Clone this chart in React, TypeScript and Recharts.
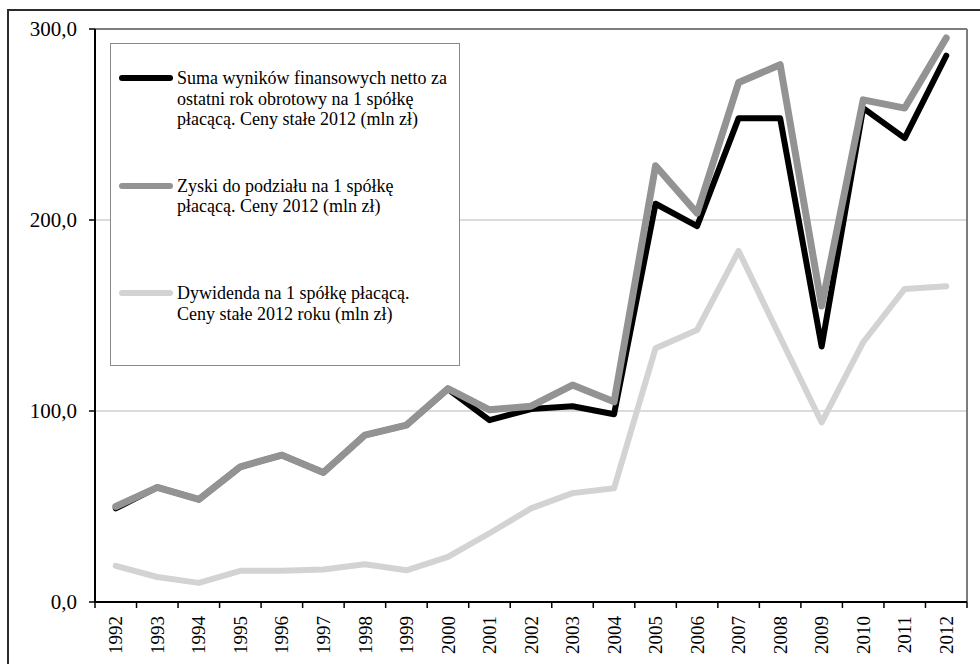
import React from 'react';
import {
  LineChart,
  Line,
  XAxis,
  YAxis,
  CartesianGrid,
  Legend,
} from 'recharts';

const years = [
  '1992', '1993', '1994', '1995', '1996', '1997', '1998', '1999', '2000', '2001', '2002',
  '2003', '2004', '2005', '2006', '2007', '2008', '2009', '2010', '2011', '2012',
];

// net financial result per paying company, constant 2012 prices (mln zł)
const netResult = [
  49, 60, 53.7, 70.8, 76.9, 67.8, 87.4, 92.6, 111.5, 95.2, 101,
  102.5, 98.3, 208.5, 196.8, 253.3, 253.3, 133.8, 258.6, 242.9, 286,
];

// profit available for distribution per paying company (mln zł)
const distributable = [
  50, 60, 53.7, 70.8, 76.9, 67.8, 87.4, 92.6, 111.7, 100.6, 102.5,
  113.6, 104.8, 228.4, 203.6, 272, 281.3, 155, 262.9, 258.6, 295.3,
];

// dividend per paying company (mln zł)
const dividend = [
  18.9, 13.1, 10, 16.3, 16.3, 17, 19.8, 16.6, 23.6, 36, 49,
  57, 59.5, 132.9, 142.4, 183.8, 138.6, 94, 136, 163.9, 165.3,
];

const yTicks = [0, 100, 200, 300];

const seriesNames = [
  'Suma wyników finansowych netto za\nostatni rok obrotowy na 1 spółkę\npłacącą. Ceny stałe 2012 (mln zł)',
  'Zyski do podziału na 1 spółkę\npłacącą. Ceny 2012 (mln zł)',
  'Dywidenda na 1 spółkę płacącą.\nCeny stałe 2012 roku (mln zł)',
];

const data = years.map((year, i) => ({
  year,
  net: netResult[i],
  dist: distributable[i],
  div: dividend[i],
}));

const W = 980;
const H = 664;
const MARGIN = { top: 29, right: 13, bottom: 0, left: 0 };
const Y_AXIS_W = 95;
const X_AXIS_H = 62;
const PLOT_W = W - MARGIN.left - MARGIN.right - Y_AXIS_W;
const BAND = PLOT_W / years.length;

const FONT = 'Liberation Serif, serif';

// eslint-disable-next-line @typescript-eslint/no-explicit-any
function YearTick({ x, y, payload, index }: any) {
  const last = index === years.length - 1;
  return (
    <g>
      <line x1={x - BAND / 2} y1={y} x2={x - BAND / 2} y2={y + 6} stroke="#000" strokeWidth={1.5} />
      {last && (
        <line x1={x + BAND / 2} y1={y} x2={x + BAND / 2} y2={y + 6} stroke="#000" strokeWidth={1.5} />
      )}
      <text
        x={x}
        y={y + 14}
        transform={`rotate(-90, ${x}, ${y + 14})`}
        textAnchor="end"
        dy="0.35em"
        fontSize={19}
        fontFamily={FONT}
        fill="#000"
      >
        {payload.value}
      </text>
    </g>
  );
}

// eslint-disable-next-line @typescript-eslint/no-explicit-any
function LegendBox({ payload }: any) {
  const items = [...(payload || [])].sort(
    (a: { value: string }, b: { value: string }) =>
      seriesNames.indexOf(a.value) - seriesNames.indexOf(b.value)
  );
  return (
    <div
      style={{
        width: '100%',
        height: '100%',
        boxSizing: 'border-box',
        border: '1.5px solid #8a8a8a',
        background: '#fff',
        paddingTop: 24,
        fontFamily: FONT,
        fontSize: 18,
        lineHeight: '20.7px',
        color: '#000',
      }}
    >
      {items.map((entry: { value: string; color: string }, i: number) => (
        <div key={i} style={{ display: 'flex', height: 107.5, alignItems: 'flex-start' }}>
          <div
            style={{
              width: 54,
              height: 6,
              marginLeft: 8,
              marginTop: 7,
              borderRadius: 3,
              background: entry.color,
              flexShrink: 0,
            }}
          />
          <div style={{ whiteSpace: 'pre-line', marginLeft: 4 }}>{entry.value}</div>
        </div>
      ))}
    </div>
  );
}

const fmt = (v: number) => v.toFixed(1).replace('.', ',');

export default function App() {
  return (
    <div
      style={{
        position: 'absolute',
        left: 0,
        top: 0,
        width: W,
        height: H,
        overflow: 'hidden',
        background: '#fff',
      }}
    >
      <div
        style={{
          position: 'absolute',
          left: 7,
          top: 9,
          width: W + 20,
          height: H + 20,
          borderLeft: '2px solid #2b2b2b',
          borderTop: '2px solid #2b2b2b',
        }}
      />
      <div style={{ position: 'absolute', left: 0, top: 0 }}>
        <LineChart width={W} height={H} data={data} margin={MARGIN}>
          <CartesianGrid vertical={false} stroke="#b8b8b8" strokeWidth={1} />
          <CartesianGrid
            stroke="#7c7c7c"
            strokeWidth={2}
            // eslint-disable-next-line @typescript-eslint/no-explicit-any
            horizontalCoordinatesGenerator={({ offset }: any) => [offset.top]}
            // eslint-disable-next-line @typescript-eslint/no-explicit-any
            verticalCoordinatesGenerator={({ offset }: any) => [offset.left + offset.width]}
          />
          <XAxis
            dataKey="year"
            height={X_AXIS_H}
            interval={0}
            padding={{ left: BAND / 2, right: BAND / 2 }}
            tickLine={false}
            tickSize={0}
            tickMargin={0}
            axisLine={{ stroke: '#000', strokeWidth: 2 }}
            tick={<YearTick />}
          />
          <YAxis
            width={Y_AXIS_W}
            domain={[0, 300]}
            ticks={yTicks}
            tickFormatter={fmt}
            tickSize={6}
            tickMargin={12}
            axisLine={{ stroke: '#000', strokeWidth: 2 }}
            tickLine={{ stroke: '#000', strokeWidth: 1.5 }}
            tick={{ fill: '#000', fontSize: 21, fontFamily: FONT }}
          />
          <Legend
            layout="horizontal"
            verticalAlign="middle"
            align="center"
            content={<LegendBox />}
            wrapperStyle={{ position: 'absolute', left: 110, top: 43, width: 350, height: 323 }}
          />
          <Line
            dataKey="net"
            name={seriesNames[0]}
            stroke="#000000"
            strokeWidth={6}
            strokeLinejoin="round"
            strokeLinecap="round"
            dot={false}
            isAnimationActive={false}
          />
          <Line
            dataKey="dist"
            name={seriesNames[1]}
            stroke="#939393"
            strokeWidth={7}
            strokeLinejoin="round"
            strokeLinecap="round"
            dot={false}
            isAnimationActive={false}
          />
          <Line
            dataKey="div"
            name={seriesNames[2]}
            stroke="#d3d3d3"
            strokeWidth={6}
            strokeLinejoin="round"
            strokeLinecap="round"
            dot={false}
            isAnimationActive={false}
          />
        </LineChart>
      </div>
    </div>
  );
}
